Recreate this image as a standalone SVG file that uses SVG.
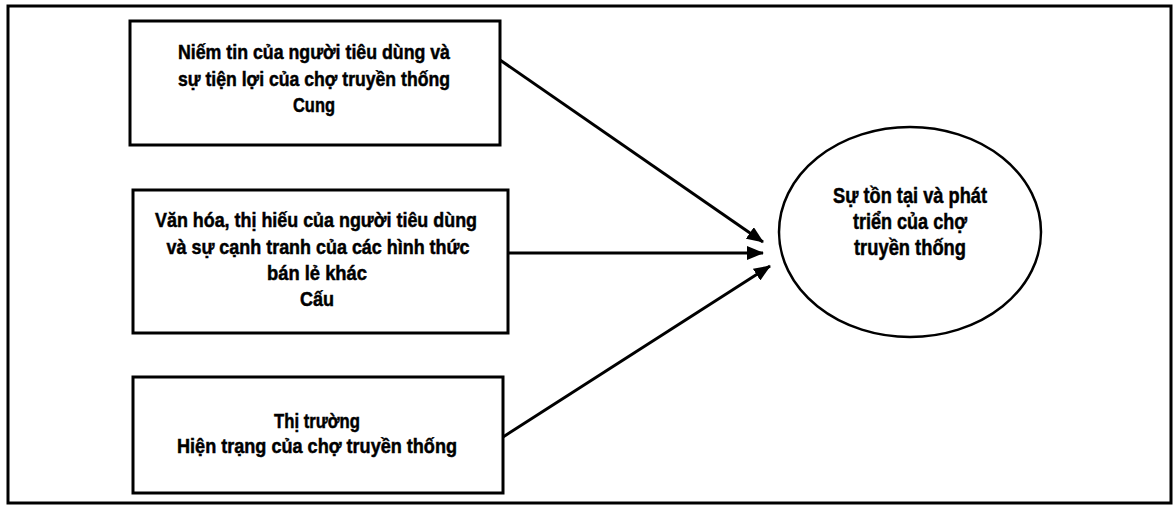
<svg xmlns="http://www.w3.org/2000/svg" width="1175" height="507" viewBox="0 0 1175 507">
<defs>
<marker id="arr" markerUnits="userSpaceOnUse" markerWidth="18" markerHeight="14" refX="16" refY="7" orient="auto">
<path d="M0,0 L17,7 L0,14 Z" fill="#000"/>
</marker>
<style>
.box{fill:#fff;stroke:#000;stroke-width:3}
.t{font-family:"Liberation Sans",Arial,sans-serif;font-weight:bold;font-size:20.5px;fill:#000;stroke:#000;stroke-width:0.5;text-anchor:middle}
.e{font-size:21.5px}
.c{stroke:#000;stroke-width:3;fill:none;marker-end:url(#arr)}
</style>
</defs>
<rect width="1175" height="507" fill="#fff"/>
<rect x="8" y="6" width="1163" height="497" fill="none" stroke="#000" stroke-width="3"/>
<g id="connectors">
<line class="c" x1="500" y1="60" x2="763" y2="242"/>
<line class="c" x1="508" y1="253" x2="763" y2="253"/>
<line class="c" x1="503" y1="437" x2="770" y2="266"/>
</g>
<g id="node-cung">
<rect class="box" x="130" y="21" width="370" height="124"/>
<text class="t" x="314" y="59" textLength="272" lengthAdjust="spacingAndGlyphs">Niếm tin của người tiêu dùng và</text>
<text class="t" x="314" y="86" textLength="272" lengthAdjust="spacingAndGlyphs">sự tiện lợi của chợ truyền thống</text>
<text class="t" x="314" y="112" textLength="42" lengthAdjust="spacingAndGlyphs">Cung</text>
</g>
<g id="node-cau">
<rect class="box" x="133" y="190" width="375" height="143"/>
<text class="t" x="316" y="227" textLength="322" lengthAdjust="spacingAndGlyphs">Văn hóa, thị hiếu của người tiêu dùng</text>
<text class="t" x="318" y="254" textLength="303" lengthAdjust="spacingAndGlyphs">và sự cạnh tranh của các hình thức</text>
<text class="t" x="317" y="280" textLength="100" lengthAdjust="spacingAndGlyphs">bán lẻ khác</text>
<text class="t" x="317" y="306" textLength="34" lengthAdjust="spacingAndGlyphs">Cấu</text>
</g>
<g id="node-thitruong">
<rect class="box" x="133" y="377" width="370" height="116"/>
<text class="t" x="317" y="428" textLength="86" lengthAdjust="spacingAndGlyphs">Thị trường</text>
<text class="t" x="317" y="453" textLength="280" lengthAdjust="spacingAndGlyphs">Hiện trạng của chợ truyền thống</text>
</g>
<g id="node-result">
<ellipse cx="910" cy="232" rx="131" ry="105" fill="#fff" stroke="#000" stroke-width="2.5"/>
<text class="t e" x="910" y="203" textLength="154" lengthAdjust="spacingAndGlyphs">Sự tồn tại và phát</text>
<text class="t e" x="910" y="229" textLength="114" lengthAdjust="spacingAndGlyphs">triển của chợ</text>
<text class="t e" x="910" y="255" textLength="112" lengthAdjust="spacingAndGlyphs">truyền thống</text>
</g>
</svg>
